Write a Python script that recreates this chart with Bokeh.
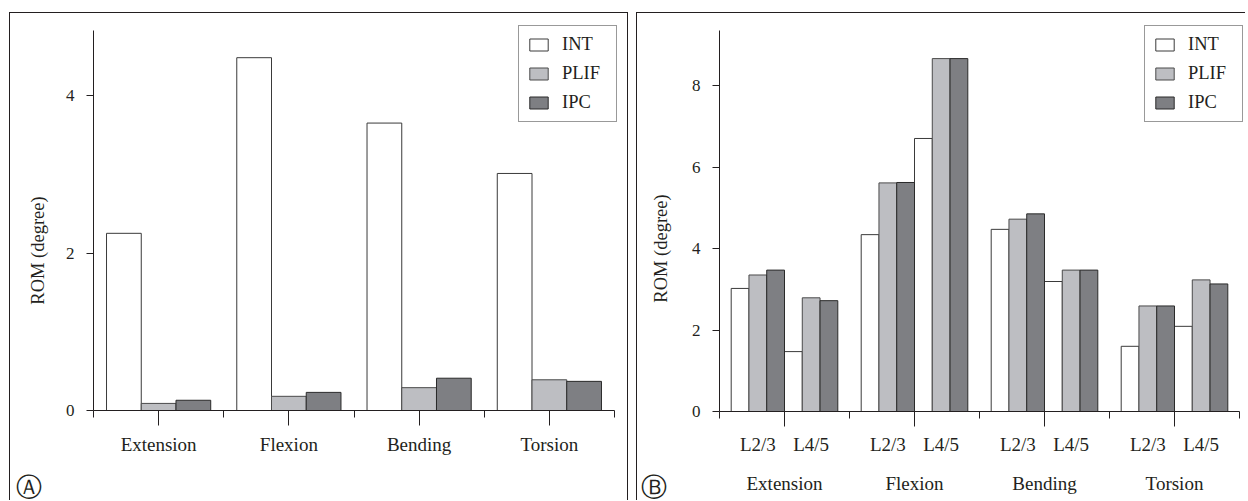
import numpy as np
from bokeh.plotting import figure
from bokeh.models import (ColumnDataSource, FixedTicker, Legend, LegendItem,
                          Label, LabelSet, Range1d)
from bokeh.layouts import row
from bokeh.embed import file_html
from bokeh.resources import INLINE

# ---------------- data ----------------
categories = ["Extension", "Flexion", "Bending", "Torsion"]
series = ["INT", "PLIF", "IPC"]
levels = ["L2/3", "L4/5"]

# Panel A: ROM (degree) per motion
a_int = [2.25, 4.48, 3.65, 3.01]
a_plif = [0.09, 0.18, 0.29, 0.39]
a_ipc = [0.13, 0.23, 0.41, 0.37]

# Panel B: ROM (degree) per motion and level (L2/3, L4/5 for each motion)
b_int = [3.02, 1.47, 4.34, 6.70, 4.47, 3.19, 1.60, 2.09]
b_plif = [3.35, 2.79, 5.61, 8.66, 4.72, 3.47, 2.59, 3.23]
b_ipc = [3.47, 2.72, 5.62, 8.66, 4.85, 3.47, 2.59, 3.13]

a_ticks = [0, 2, 4]
b_ticks = [0, 2, 4, 6, 8]
a_axis_top = 4.83
b_axis_top = 9.35
y_title = "ROM (degree)"
panel_letters = ["Ⓐ", "Ⓑ"]

# ---------------- style / layout ----------------
FONT = "Liberation Serif"
TXT = "#231f20"
FILLS = {"INT": "#ffffff", "PLIF": "#bdbec2", "IPC": "#7e7f83"}
LINES = {"INT": "#3a3a3a", "PLIF": "#4a4a4a", "IPC": "#2a2a2a"}
BORDER = "1px solid #231f20"
H = 488                     # canvas height (px)


def make_fig(width, left_px, unit_px, zero_px, px_per_y, axis_top, yticks, styles):
    # plot area covers the whole canvas; axes are pinned at data locations
    x0 = 0.5 - left_px / unit_px
    x1 = x0 + width / unit_px
    y1 = zero_px / px_per_y
    y0 = y1 - H / px_per_y
    p = figure(width=width, height=H,
               x_range=Range1d(x0, x1), y_range=Range1d(y0, y1),
               output_backend="svg", toolbar_location=None,
               min_border=0, min_border_left=0, min_border_right=0,
               min_border_top=0, min_border_bottom=0,
               background_fill_color="white", border_fill_color="white",
               styles=styles)
    p.xgrid.visible = False
    p.ygrid.visible = False
    p.outline_line_color = None
    xa = p.xaxis[0]
    ya = p.yaxis[0]
    n = len(categories)
    centers = [i + 1 for i in range(n)]
    bounds = [i + 0.5 for i in range(n + 1)]
    xa.ticker = FixedTicker(ticks=centers, minor_ticks=bounds)
    xa.major_label_overrides = {c: t for c, t in zip(centers, categories)}
    xa.fixed_location = 0
    xa.bounds = (0.5, n + 0.5)
    ya.ticker = FixedTicker(ticks=yticks, minor_ticks=[])
    ya.fixed_location = 0.5
    ya.bounds = (0, axis_top)
    for ax in (xa, ya):
        ax.axis_line_color = TXT
        ax.axis_line_width = 1
        ax.major_tick_line_color = TXT
        ax.minor_tick_line_color = TXT
        ax.major_tick_in = 0
        ax.minor_tick_in = 0
        ax.major_label_text_font = FONT
        ax.major_label_text_color = TXT
    xa.major_tick_out = 15
    xa.minor_tick_out = 7
    xa.major_label_text_font_size = "19px"
    ya.major_tick_out = 7
    ya.minor_tick_out = 0
    ya.major_label_text_font_size = "17px"
    ya.major_label_standoff = 12
    return p


def add_legend(p, renderers, loc):
    leg = Legend(items=[LegendItem(label=s, renderers=[r]) for s, r in zip(series, renderers)],
                 location=loc, margin=0, padding=8, spacing=8,
                 glyph_width=23, glyph_height=15, label_standoff=12,
                 label_height=20, label_width=46,
                 label_text_font=FONT, label_text_font_size="18.5px", label_text_color=TXT,
                 border_line_color="#333333", border_line_width=1,
                 background_fill_color="white", background_fill_alpha=1)
    p.add_layout(leg)


def add_texts(p, letter, tx, ty, lx, ly):
    p.add_layout(Label(x=tx, y=ty, x_units="screen", y_units="screen", text=y_title,
                       angle=np.pi / 2, text_align="center", text_baseline="middle",
                       text_font=FONT, text_font_size="18.5px", text_color=TXT))
    p.add_layout(Label(x=lx, y=ly, x_units="screen", y_units="screen", text=letter,
                       text_align="center", text_baseline="middle",
                       text_font="DejaVu Sans", text_font_size="26px", text_color=TXT))


# ---------------- panel A ----------------
pa = make_fig(619, 83, 130.25, 397, 78.75, a_axis_top, a_ticks,
              {"border-top": BORDER, "border-left": BORDER, "border-right": BORDER,
               "margin-top": "12px", "margin-left": "9px"})
pa.xaxis[0].major_label_standoff = 8
wa = 0.8 / 3
rend_a = []
for k, (s, vals) in enumerate(zip(series, [a_int, a_plif, a_ipc])):
    xs = [g + 1 - 0.4 + (k + 0.5) * wa for g in range(len(categories))]
    src = ColumnDataSource(dict(x=xs, top=vals))
    r = pa.vbar(x="x", top="top", bottom=0, width=wa, source=src,
                fill_color=FILLS[s], line_color=LINES[s], line_width=1)
    rend_a.append(r)
add_legend(pa, rend_a, (508, 379))
add_texts(pa, panel_letters[0], 27, 251, 18, 15)

# ---------------- panel B ----------------
pb = make_fig(609, 82, 130.0, 398, 40.75, b_axis_top, b_ticks,
              {"border-top": BORDER, "border-left": BORDER, "margin-top": "12px"})
pb.xaxis[0].major_label_standoff = 46
wb = 0.82 / 6
rend_b = []
for k, (s, vals) in enumerate(zip(series, [b_int, b_plif, b_ipc])):
    xs = []
    for g in range(len(categories)):
        for li in range(len(levels)):
            j = li * 3 + k
            xs.append(g + 1 - 0.41 + (j + 0.5) * wb)
    src = ColumnDataSource(dict(x=xs, top=vals))
    r = pb.vbar(x="x", top="top", bottom=0, width=wb, source=src,
                fill_color=FILLS[s], line_color=LINES[s], line_width=1)
    rend_b.append(r)
sub_x = [g + 1 + (li - 0.5) * 0.41 for g in range(len(categories)) for li in range(len(levels))]
sub_t = [levels[li] for g in range(len(categories)) for li in range(len(levels))]
pb.add_layout(LabelSet(x="x", y=57, y_units="screen", text="t",
                       source=ColumnDataSource(dict(x=sub_x, t=sub_t)),
                       text_align="center", text_baseline="middle",
                       text_font=FONT, text_font_size="19px", text_color=TXT))
add_legend(pb, rend_b, (507, 379))
add_texts(pb, panel_letters[1], 23, 253, 16, 15)

layout = row(pa, pb, spacing=8)
open("out.html", "w").write(file_html(layout, INLINE))
